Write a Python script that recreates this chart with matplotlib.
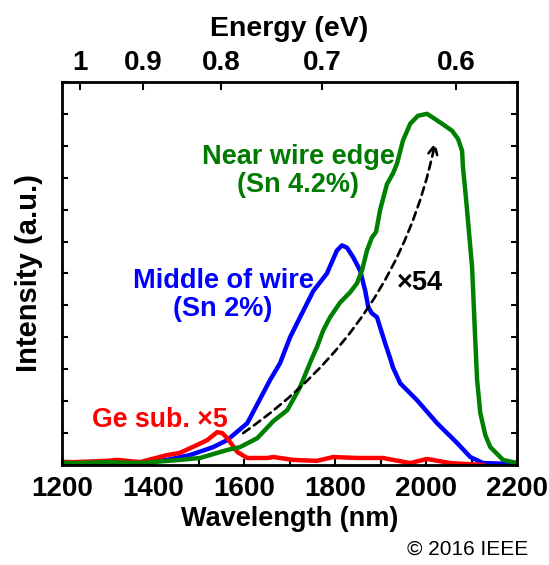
import matplotlib.pyplot as plt

plt.rcParams['font.family'] = ['Liberation Sans', 'DejaVu Sans']
plt.rcParams['font.weight'] = 'bold'

# green: near wire edge (Sn 4.2%)
edge_nm = [1200, 1224, 1299, 1371, 1459, 1503, 1563, 1591, 1629, 1664, 1695, 1723, 1749,
           1760, 1774, 1789, 1811, 1833, 1848, 1859, 1870, 1881, 1890, 1899, 1914, 1927,
           1936, 1949, 1965, 1982, 2002, 2015, 2035, 2057, 2070, 2079, 2081, 2086, 2090,
           2101, 2108, 2112, 2119, 2130, 2141, 2169, 2200]
edge_int = [0.08, 0.06, 0.09, 0.06, 0.16, 0.22, 0.47, 0.56, 0.84, 1.37, 1.72, 2.44, 3.34,
            3.69, 4.22, 4.63, 5.09, 5.41, 5.69, 6.09, 6.72, 7.13, 7.3, 8.0, 8.8, 9.13,
            9.44, 10.16, 10.69, 10.94, 11.0, 10.88, 10.69, 10.47, 10.22, 9.84, 9.31, 8.59, 7.97,
            6.19, 3.9, 2.66, 1.63, 0.94, 0.56, 0.16, 0.06]

# blue: middle of wire (Sn 2%)
mid_nm = [1200, 1300, 1371, 1431, 1481, 1532, 1563, 1607, 1657, 1679, 1701, 1723, 1752,
          1782, 1804, 1815, 1826, 1840, 1855, 1866, 1873, 1881, 1892, 1899, 1910, 1921,
          1927, 1943, 1980, 2024, 2068, 2097, 2125, 2200]
mid_int = [0.05, 0.03, 0.06, 0.16, 0.31, 0.56, 0.78, 1.31, 2.66, 3.19, 4.0, 4.63, 5.45,
           6.0, 6.72, 6.88, 6.81, 6.5, 6.09, 5.47, 4.94, 4.75, 4.63, 4.31, 3.81, 3.34,
           3.06, 2.56, 2.03, 1.31, 0.69, 0.25, 0.06, 0.03]

# red: Ge substrate x5
ge_nm = [1200, 1224, 1299, 1321, 1371, 1431, 1459, 1497, 1519, 1541, 1552, 1563, 1585,
         1607, 1651, 1664, 1708, 1760, 1796, 1848, 1905, 1965, 2002, 2053, 2090, 2125]
ge_int = [0.1, 0.09, 0.13, 0.16, 0.09, 0.31, 0.38, 0.63, 0.78, 1.03, 1.0, 0.84, 0.41,
          0.22, 0.22, 0.25, 0.16, 0.13, 0.25, 0.22, 0.22, 0.06, 0.19, 0.06, 0.03, 0.0]

energy_ticks = [1, 0.9, 0.8, 0.7, 0.6]
energy_labels = ['1', '0.9', '0.8', '0.7', '0.6']

fig = plt.figure(figsize=(5.49, 5.65), dpi=100)
ax = fig.add_axes([0.113, 0.177, 0.829, 0.678])

ax.plot(mid_nm, mid_int, color='#0000ff', lw=3.2, solid_joinstyle='round')
ax.plot(ge_nm, ge_int, color='#ff0000', lw=3.2, solid_joinstyle='round')
ax.plot(edge_nm, edge_int, color='#008000', lw=3.2, solid_joinstyle='round')

ax.annotate('', xy=(2020, 10.1), xytext=(1598, 1.0),
            arrowprops=dict(arrowstyle='->', color='black', lw=1.9, ls=(0, (3, 2)),
                            connectionstyle='arc3,rad=0.2', mutation_scale=16,
                            shrinkA=0, shrinkB=0))

ax.set_xlim(1200, 2200)
ax.set_ylim(0, 12)
ax.set_xticks(range(1200, 2201, 200))
ax.set_xticks(range(1300, 2200, 200), minor=True)
ax.set_yticks(range(0, 13))
ax.set_yticklabels([])
ax.tick_params(axis='x', which='both', direction='in', length=4, width=1.5, labelsize=20, pad=8)
ax.tick_params(axis='y', direction='in', length=4, width=1.5, right=True)
for s in ax.spines.values():
    s.set_linewidth(2)

ax.set_xlabel('Wavelength (nm)', fontsize=19.5, fontweight='bold', labelpad=3)
ax.set_ylabel('Intensity (a.u.)', fontsize=21, fontweight='bold', labelpad=10)

top = ax.twiny()
top.set_xlim(ax.get_xlim())
top.set_xticks([1239.84 / e for e in energy_ticks])
top.set_xticklabels(energy_labels)
top.tick_params(direction='in', length=6, width=1.5, labelsize=20, pad=4)
top.set_xlabel('Energy (eV)', fontsize=20.5, fontweight='bold', labelpad=10)

ax.text(1719, 9.2, 'Near wire edge\n(Sn 4.2%)', color='#007a00', fontsize=19.5,
        ha='center', va='center', linespacing=1.1)
ax.text(1554, 5.34, 'Middle of wire\n(Sn 2%)', color='#0000ff', fontsize=19.5,
        ha='center', va='center', linespacing=1.1)
ax.text(1415, 1.4, 'Ge sub. \u00d75', color='#ff0000', fontsize=19.3, ha='center', va='center')
ax.text(1987, 5.7, '\u00d754', color='black', fontsize=19.5, ha='center', va='center')

fig.text(0.963, 0.027, '\u00a9 2016 IEEE', fontsize=15, fontweight='normal', ha='right', va='center')

fig.savefig('out.png', dpi=100)
